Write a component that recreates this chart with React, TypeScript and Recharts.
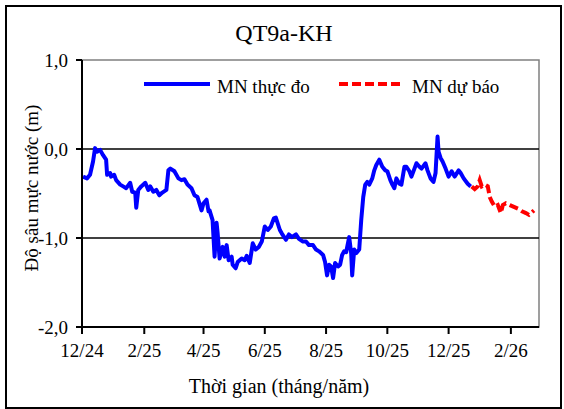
import React from "react";
import { LineChart, Line, XAxis, YAxis, ReferenceLine, ReferenceArea } from "recharts";

// days counted from 1 Dec 2024
const measuredDays = [
  1, 5, 8, 11, 13, 15, 18, 21, 24, 25, 28, 29, 32, 34, 38, 41, 44, 48, 50, 53, 54, 56, 59, 63, 66, 68, 71,
  74, 77, 80, 84, 86, 88, 92, 96, 99, 102, 105, 109, 112, 115, 119, 121, 124, 126, 127, 130, 132, 134, 135,
  137, 140, 142, 144, 146, 149, 150, 153, 155, 159, 162, 164, 167, 170, 173, 176, 179, 182, 185, 188, 191,
  193, 197, 199, 203, 206, 209, 213, 216, 220, 223, 226, 230, 233, 236, 240, 242, 244, 246, 248, 250, 252,
  255, 257, 259, 261, 263, 266, 268, 269, 271, 273, 276, 278, 280, 282, 284, 286, 289, 291, 293, 296, 299,
  302, 304, 307, 309, 311, 313, 316, 318, 321, 323, 326, 328, 331, 333, 336, 338, 342, 344, 347, 350, 352,
  354, 355, 357, 359, 362, 365, 368, 371, 375, 377, 380, 384, 387
];
const measuredDepth = [
  -0.31, -0.33, -0.29, -0.14, 0.01, -0.03, -0.01, -0.07, -0.12, -0.29, -0.27, -0.31, -0.29, -0.35, -0.4,
  -0.42, -0.44, -0.38, -0.48, -0.49, -0.66, -0.46, -0.42, -0.38, -0.46, -0.42, -0.48, -0.46, -0.52, -0.49,
  -0.46, -0.24, -0.22, -0.25, -0.33, -0.35, -0.34, -0.4, -0.44, -0.52, -0.54, -0.69, -0.61, -0.57, -0.7,
  -0.69, -0.8, -1.21, -0.83, -0.94, -1.23, -1.1, -1.21, -1.08, -1.25, -1.21, -1.3, -1.34, -1.27, -1.23,
  -1.25, -1.2, -1.28, -1.06, -1.13, -1.1, -1.04, -0.87, -0.91, -0.87, -0.78, -0.77, -0.91, -0.95, -1.02,
  -0.96, -0.99, -0.96, -1.01, -1.04, -1.04, -1.08, -1.08, -1.13, -1.15, -1.19, -1.27, -1.42, -1.3, -1.32,
  -1.45, -1.28, -1.32, -1.3, -1.19, -1.15, -1.16, -0.99, -1.17, -1.42, -1.13, -1.17, -1.13, -0.8, -0.54,
  -0.4, -0.37, -0.4, -0.33, -0.24, -0.18, -0.12, -0.2, -0.24, -0.25, -0.35, -0.4, -0.44, -0.33, -0.39,
  -0.4, -0.2, -0.2, -0.25, -0.31, -0.22, -0.16, -0.2, -0.22, -0.16, -0.24, -0.33, -0.37, -0.27, 0.14,
  -0.03, -0.1, -0.14, -0.22, -0.31, -0.25, -0.31, -0.24, -0.27, -0.33, -0.39, -0.42
];

const forecastDays = [
  388, 391, 394, 396, 398, 401, 404, 406, 408, 411, 414, 417, 419, 422, 426, 430, 434, 438, 442, 445, 448, 450
];
const forecastDepth = [
  -0.42, -0.45, -0.42, -0.35, -0.42, -0.4, -0.42, -0.54, -0.59, -0.65, -0.63, -0.72, -0.63, -0.61, -0.63,
  -0.65, -0.67, -0.7, -0.72, -0.74, -0.71, -0.69
];

const xTicks = [0, 62, 121, 182, 243, 304, 365, 427];
const xTickLabels = ["12/24", "2/25", "4/25", "6/25", "8/25", "10/25", "12/25", "2/26"];
const yTicks = [-2, -1, 0, 1];

const measured = measuredDays.map((d, i) => ({ day: d, depth: measuredDepth[i] }));
const forecast = forecastDays.map((d, i) => ({ day: d, depth: forecastDepth[i] }));

const font = "Liberation Serif";

export default function App() {
  return (
    <div style={{ position: "absolute", left: 0, top: 0, width: 564, height: 409, background: "#fff" }}>
      <div
        style={{
          position: "absolute",
          left: 5,
          top: 5,
          width: 553,
          height: 400,
          border: "2px solid #000"
        }}
      />
      <LineChart
        width={564}
        height={409}
        margin={{ top: 60, right: 25, bottom: 52, left: 0 }}
        style={{ position: "absolute", left: 0, top: 0, fontFamily: font }}
      >
        <ReferenceArea x1={0} x2={455} y1={-2} y2={1} fill="none" stroke="#808080" strokeWidth={1.5} />
        <ReferenceLine y={0} stroke="#000" strokeWidth={1.5} />
        <ReferenceLine y={-1} stroke="#000" strokeWidth={1.5} />
        <XAxis
          type="number"
          dataKey="day"
          domain={[0, 455]}
          ticks={xTicks}
          tickFormatter={(v: number) => xTickLabels[xTicks.indexOf(v)]}
          height={30}
          tickSize={7}
          tickMargin={10}
          interval={0}
          allowDataOverflow
          axisLine={{ stroke: "#000", strokeWidth: 2 }}
          tickLine={{ stroke: "#000", strokeWidth: 2 }}
          tick={{ fill: "#000", fontSize: 19, fontFamily: font }}
        />
        <YAxis
          type="number"
          domain={[-2, 1]}
          ticks={yTicks}
          width={82}
          tickSize={6}
          tickMargin={8}
          interval={0}
          tickFormatter={(v: number) => v.toFixed(1).replace(".", ",")}
          axisLine={{ stroke: "#000", strokeWidth: 2 }}
          tickLine={{ stroke: "#000", strokeWidth: 2 }}
          tick={{ fill: "#000", fontSize: 19, fontFamily: font }}
        />
        <Line
          data={measured}
          dataKey="depth"
          name="MN thực đo"
          type="linear"
          stroke="#0000ff"
          strokeWidth={4}
          strokeLinejoin="round"
          dot={false}
          isAnimationActive={false}
        />
        <Line
          data={forecast}
          dataKey="depth"
          name="MN dự báo"
          type="linear"
          stroke="#ff0000"
          strokeWidth={4}
          strokeDasharray="9 4"
          dot={false}
          isAnimationActive={false}
        />
      </LineChart>
      <svg
        width={564}
        height={409}
        style={{ position: "absolute", left: 0, top: 0, pointerEvents: "none" }}
      >
        <text x={284} y={41} fontSize={24} fontFamily={font} textAnchor="middle" fill="#000">QT9a-KH</text>
        <text
          x={38}
          y={188}
          fontSize={19}
          fontFamily={font}
          textAnchor="middle"
          fill="#000"
          transform="rotate(-90 38 188)"
        >
          Độ sâu mực nước (m)
        </text>
        <text x={279} y={393} fontSize={20} fontFamily={font} textAnchor="middle" fill="#000">
          Thời gian (tháng/năm)
        </text>
        <g transform="translate(140 70)" fontFamily={font}>
          <line x1={4} y1={14} x2={70} y2={14} stroke="#0000ff" strokeWidth={4} />
          <text x={77} y={22.5} fontSize={19} fill="#000">MN thực đo</text>
          <line x1={199} y1={14} x2={263} y2={14} stroke="#ff0000" strokeWidth={4} strokeDasharray="9 4" />
          <text x={272} y={22.5} fontSize={19} fill="#000">MN dự báo</text>
        </g>
      </svg>
    </div>
  );
}
